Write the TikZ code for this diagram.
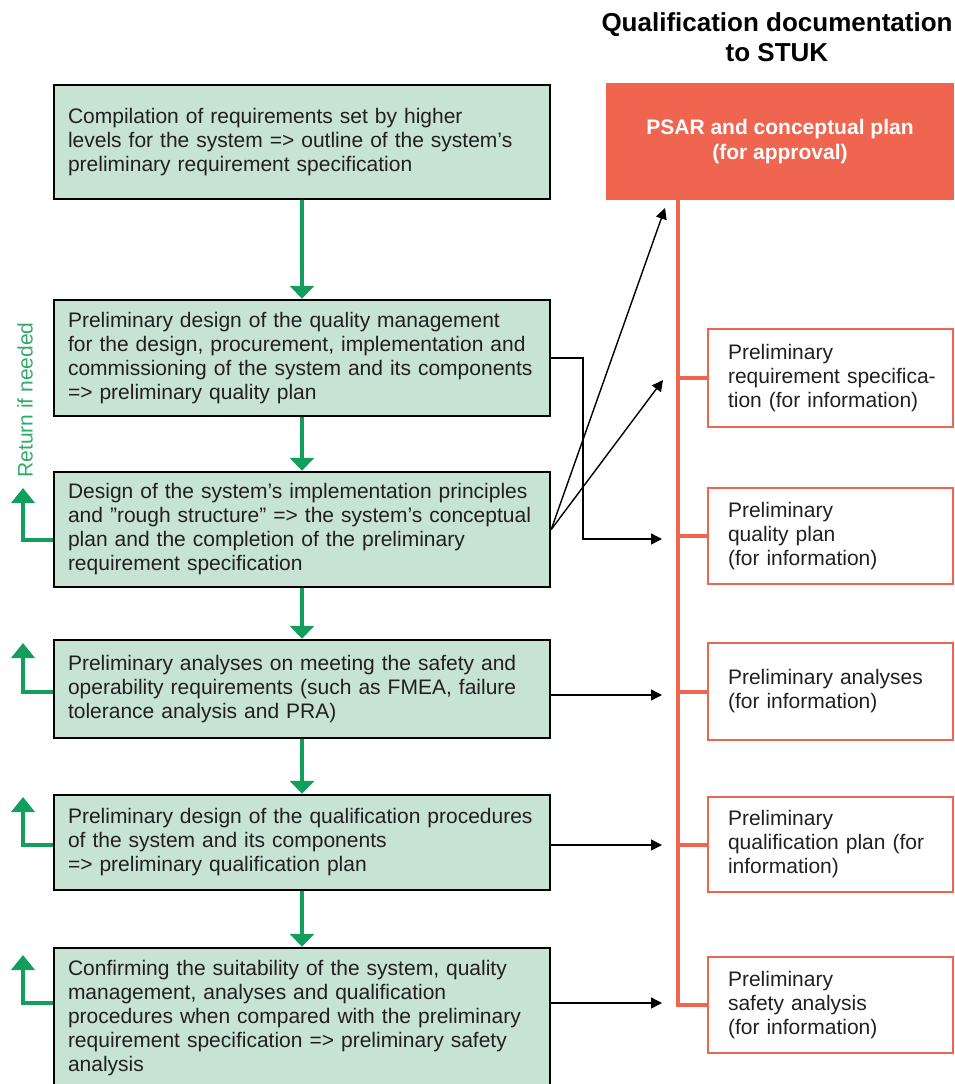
\documentclass[tikz,border=0pt]{standalone}
\usepackage{fontspec}
\setmainfont{Liberation Sans}
\usetikzlibrary{arrows.meta}
\definecolor{boxfill}{RGB}{199,227,212}
\definecolor{flowgreen}{RGB}{18,158,92}
\definecolor{retgreen}{RGB}{50,170,110}
\definecolor{stuk}{RGB}{240,101,80}
\definecolor{ink}{RGB}{35,31,32}

\begin{document}
\begin{tikzpicture}[x=1pt,y=-1pt,
  every node/.style={font=\fontsize{21}{24}\selectfont, text=ink},
  stepbox/.style={draw=black, line width=2.4pt, fill=boxfill, minimum width=496pt,
    text width=468pt, inner xsep=14pt, inner ysep=0pt, align=left},
  infobox/.style={draw=stuk, line width=2pt, fill=white, minimum width=245pt,
    text width=205pt, inner xsep=20pt, inner ysep=0pt, align=left},
  flow/.style={draw=flowgreen, line width=4pt, -{Triangle[width=24pt,length=13pt]}},
  back/.style={draw=flowgreen, line width=4.5pt, -{Triangle[width=23pt,length=15pt]}},
  docarrow/.style={draw=black, line width=1.4pt, -{Triangle[width=11pt,length=11pt]}},
  trunk/.style={draw=stuk, line width=4pt},
]
\useasboundingbox (0,0) rectangle (954,1084);
\clip (0,0) rectangle (954,1084);

% heading of the right-hand column
\node[font=\bfseries\fontsize{26}{30}\selectfont, align=center, text=black]
  (title) at (777,37) {Qualification documentation\\to STUK};

% design steps
\node[stepbox, minimum height=114pt] (s1) at (302,142)
  {Compilation of requirements set by higher\\levels for the system => outline of the system’s\\preliminary requirement specification};
\node[stepbox, minimum height=116pt] (s2) at (302,358)
  {Preliminary design of the quality management\\for the design, procurement, implementation and\\commissioning of the system and its components\\=> preliminary quality plan};
\node[stepbox, minimum height=115pt] (s3) at (302,529.5)
  {Design of the system’s implementation principles\\and ”rough structure” => the system’s conceptual\\plan and the completion of the preliminary\\requirement specification};
\node[stepbox, minimum height=98pt] (s4) at (302,689)
  {Preliminary analyses on meeting the safety and\\operability requirements (such as FMEA, failure\\tolerance analysis and PRA)};
\node[stepbox, minimum height=95pt] (s5) at (302,842.5)
  {Preliminary design of the qualification procedures\\of the system and its components\\=> preliminary qualification plan};
\node[stepbox, minimum height=140pt] (s6) at (302,1018)
  {Confirming the suitability of the system, quality\\management, analyses and qualification\\procedures when compared with the preliminary\\requirement specification => preliminary safety\\analysis};

% documents delivered
\node[fill=stuk, minimum width=348pt, minimum height=117pt, align=center, text=white,
  font=\bfseries\fontsize{21}{25}\selectfont] (psar) at (780,141.5)
  {PSAR and conceptual plan\\(for approval)};
\node[infobox, minimum height=98pt] (d1) at (830.5,378)
  {Preliminary\\\mbox{requirement specifica-}\\tion (for information)};
\node[infobox, minimum height=96pt] (d2) at (830.5,536)
  {Preliminary\\quality plan\\(for information)};
\node[infobox, minimum height=97pt] (d3) at (830.5,691.5)
  {Preliminary analyses\\(for information)};
\node[infobox, minimum height=95pt] (d4) at (830.5,844.5)
  {Preliminary\\qualification plan (for\\information)};
\node[infobox, minimum height=96pt] (d5) at (830.5,1005)
  {Preliminary\\safety analysis\\(for information)};

% orange trunk with branches
\coordinate (tb) at (678,1005);
\draw[trunk] (psar.south -| tb) -- (tb) -- (d5.west);
\foreach \d in {d1,d2,d3,d4} \draw[trunk] (\d.west -| tb) -- (\d.west);

% main flow
\draw[flow] (s1.south) -- (s2.north);
\draw[flow] (s2.south) -- (s3.north);
\draw[flow] (s3.south) -- (s4.north);
\draw[flow] (s4.south) -- (s5.north);
\draw[flow] (s5.south) -- (s6.north);

% return loops
\node[rotate=90, text=retgreen, font=\fontsize{21}{24}\selectfont] (ret) at (25,400) {Return if needed};
\coordinate (rc3) at (23,540);  \coordinate (rt3) at (23,488);
\coordinate (rc4) at (23,692);  \coordinate (rt4) at (23,643);
\coordinate (rc5) at (23,845);  \coordinate (rt5) at (23,797);
\coordinate (rc6) at (23,1003); \coordinate (rt6) at (23,955);
\draw[back] (s3.west |- rc3) -- (rc3) -- (rt3);
\draw[back] (s4.west |- rc4) -- (rc4) -- (rt4);
\draw[back] (s5.west |- rc5) -- (rc5) -- (rt5);
\draw[back] (s6.west |- rc6) -- (rc6) -- (rt6);

% documents produced by the steps
\coordinate (k2) at (583,539);
\coordinate (t2) at (662,539);
\coordinate (tp) at (665,208);
\coordinate (t1) at (663,380);
\coordinate (t4) at (662,695);
\coordinate (t5) at (662,845);
\coordinate (t6) at (662,1003);
\draw[docarrow] (s2.east) -| (k2) -- (t2);
\draw[docarrow] (s3.east) -- (tp);
\draw[docarrow] (s3.east) -- (t1);
\draw[docarrow] (s4.east |- t4) -- (t4);
\draw[docarrow] (s5.east |- t5) -- (t5);
\draw[docarrow] (s6.east |- t6) -- (t6);
\end{tikzpicture}
\end{document}
